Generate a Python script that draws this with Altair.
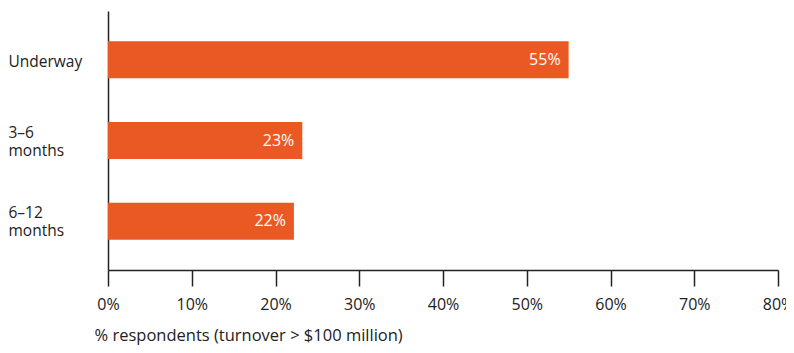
import altair as alt
import pandas as pd

categories = ["Underway", "3–6\nmonths", "6–12\nmonths"]
values = [55, 23.2, 22.2]
value_labels = ["55%", "23%", "22%"]
x_ticks = [0, 10, 20, 30, 40, 50, 60, 70, 80]

df = pd.DataFrame({"cat": categories, "val": values, "lab": value_labels})

FONT = "Open Sans"
TXT = "#222222"

y = alt.Y(
    "cat:N",
    sort=categories,
    scale=alt.Scale(paddingInner=0.54, paddingOuter=0.375),
    axis=alt.Axis(
        title=None,
        ticks=False,
        labelAlign="left",
        labelPadding=100,
        labelBaseline="middle",
        labelFont=FONT,
        labelFontSize=15.5,
        labelColor=TXT,
        labelLineHeight=18,
        labelOffset={"condition": {"test": "datum.value == 'Underway'", "value": 2}, "value": -8},
        labelExpr="split(datum.label, '\\n')",
        domainColor=TXT,
        domainWidth=1.5,
        grid=False,
    ),
)

x = alt.X(
    "val:Q",
    scale=alt.Scale(domain=[0, 80], nice=False),
    axis=alt.Axis(
        values=x_ticks,
        labelExpr="datum.value + '%'",
        title="% respondents (turnover > $100 million)",
        titleFont=FONT,
        titleFontSize=16.5,
        titleFontWeight="normal",
        titleColor=TXT,
        titleAlign="left",
        titleAnchor="start",
        titleBaseline="middle",
        titleX=-14,
        titleY=65,
        labelFont=FONT,
        labelFontSize=16,
        labelColor=TXT,
        labelPadding=10,
        tickSize=16,
        tickColor=TXT,
        tickWidth=1.5,
        domainColor=TXT,
        domainWidth=1.5,
        grid=False,
        labelFlush=False,
        labelOverlap=False,
    ),
)

bars = alt.Chart(df).mark_bar(color="#EA5923").encode(x=x, y=y)
text = alt.Chart(df).mark_text(
    align="right", baseline="middle", dx=-8, color="white", font=FONT, fontSize=16
).encode(x="val:Q", y=alt.Y("cat:N", sort=categories), text="lab:N")

chart = (
    alt.layer(bars, text)
    .properties(
        width=670,
        height=259,
        autosize=alt.AutoSizeParams(type="none"),
        padding={"left": 100, "top": 3, "right": 8, "bottom": 75},
    )
    .configure_view(stroke=None)
)

chart.save("out.html", embed_options={"renderer": "svg", "actions": False})
